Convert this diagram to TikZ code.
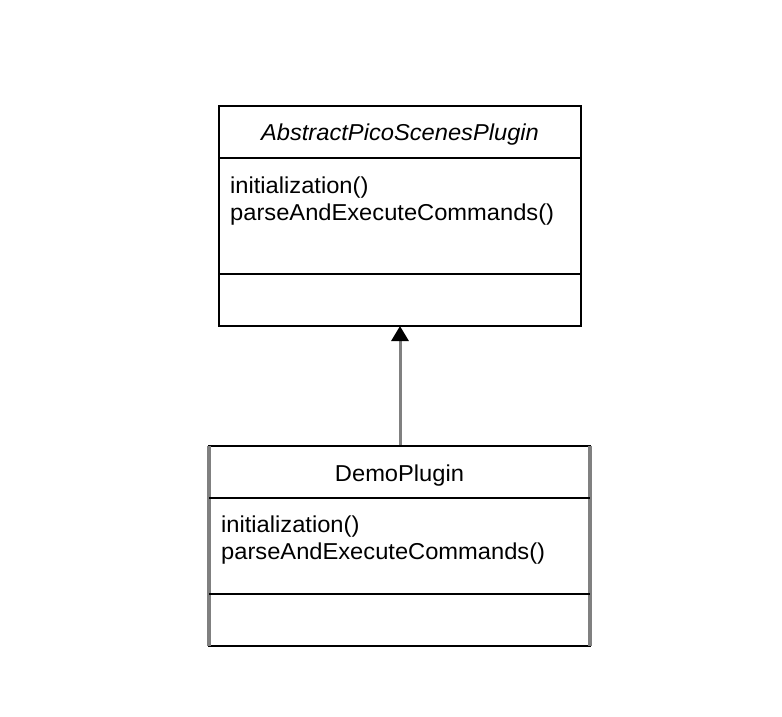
\documentclass[tikz,border=0pt]{standalone}
\usepackage{fontspec}
\setmainfont[FakeStretch=1.03]{Liberation Sans}
\usetikzlibrary{arrows.meta}
\tikzset{
  classbox/.style={draw=black, line width=2pt, fill=white, inner sep=0pt},
  sep/.style={draw=black, line width=2pt},
  graysides/.style={draw=black!50, line width=3.5pt},
  txt/.style={inner sep=0pt, font=\fontsize{23}{27}\selectfont},
  inherit/.style={draw=black!50, line width=3pt, -{Triangle[length=15pt,width=17pt,color=black,fill=black]}, shorten >=-1pt}
}
\begin{document}
\begin{tikzpicture}[x=1pt,y=-1pt]
\useasboundingbox (0,0) rectangle (782,716);
% top class
\node[classbox, minimum width=362pt, minimum height=220pt] (abs) at (400,216) {};
\coordinate (absT1) at (219,158);
\coordinate (absT2) at (581,158);
\coordinate (absB1) at (219,274);
\coordinate (absB2) at (581,274);
\draw[sep] (absT1) -- (absT2);
\draw[sep] (absB1) -- (absB2);
\node[txt, anchor=base] (absname) at (400,140) {\itshape AbstractPicoScenesPlugin};
\node[txt, anchor=base west] (absm1) at (230,193) {initialization()};
\node[txt, anchor=base west] (absm2) at (230,220) {parseAndExecuteCommands()};
% bottom class
\node[classbox, minimum width=381pt, minimum height=200pt] (demo) at (399.5,546) {};
\coordinate (dTL) at (209,446);
\coordinate (dBL) at (209,646);
\coordinate (dTR) at (590,446);
\coordinate (dBR) at (590,646);
\draw[graysides] (dTL) -- (dBL);
\draw[graysides] (dTR) -- (dBR);
\coordinate (dS1a) at (209,498);
\coordinate (dS1b) at (590,498);
\coordinate (dS2a) at (209,594);
\coordinate (dS2b) at (590,594);
\draw[sep] (dS1a) -- (dS1b);
\draw[sep] (dS2a) -- (dS2b);
\node[txt, anchor=base] (demoname) at (399.5,481) {DemoPlugin};
\node[txt, anchor=base west] (demom1) at (221,532) {initialization()};
\node[txt, anchor=base west] (demom2) at (221,559) {parseAndExecuteCommands()};
% inheritance arrow
\draw[inherit] (demo.north -| abs.south) -- (abs.south);
\end{tikzpicture}
\end{document}
